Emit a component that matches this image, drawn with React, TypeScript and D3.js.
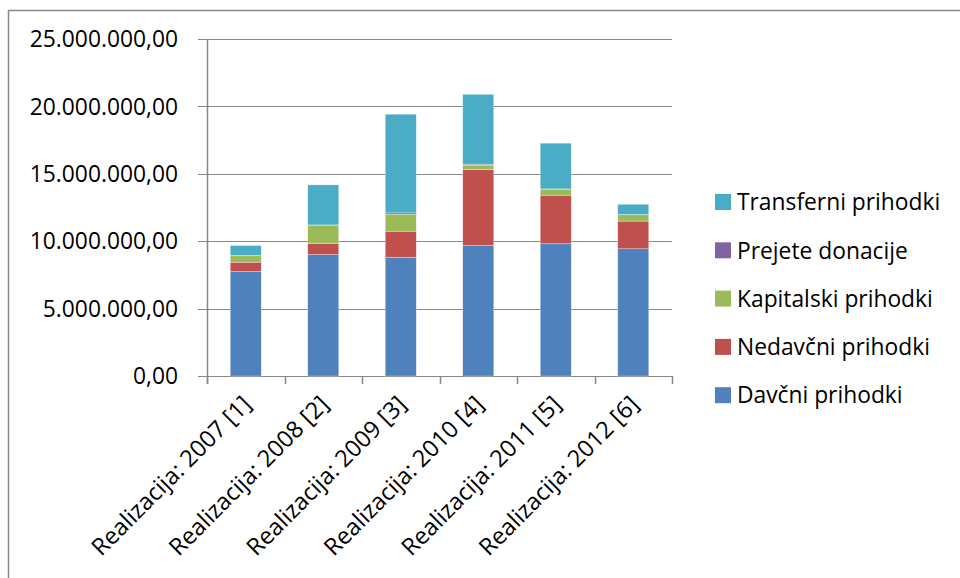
import { useEffect, useRef } from "react";
import * as d3 from "d3";

const CATEGORIES = [
    "Realizacija: 2007 [1]",
    "Realizacija: 2008 [2]",
    "Realizacija: 2009 [3]",
    "Realizacija: 2010 [4]",
    "Realizacija: 2011 [5]",
    "Realizacija: 2012 [6]",
];

// stacking order bottom -> top
const SERIES = ["Davčni prihodki", "Nedavčni prihodki", "Kapitalski prihodki", "Prejete donacije", "Transferni prihodki"];
const COLORS = ["#4F81BD", "#C0504D", "#9BBB59", "#8064A2", "#4BACC6"];

const DAVCNI = [7750000, 9010000, 8810000, 9680000, 9810000, 9440000];
const NEDAVCNI = [690000, 820000, 1930000, 5640000, 3600000, 2050000];
const KAPITALSKI = [480000, 1360000, 1260000, 320000, 450000, 470000];
const DONACIJE = [20000, 20000, 100000, 70000, 20000, 20000];
const TRANSFERNI = [740000, 2970000, 7320000, 5190000, 3390000, 760000];

const Y_TICKS = [0, 5000000, 10000000, 15000000, 20000000, 25000000];

const W = 960;
const H = 578;
const PLOT = { left: 207, right: 672, top: 39, bottom: 376 };
const FONT = "'Open Sans', sans-serif";

// Slovenian number format: 25.000.000,00
const fmt = (v: number) => {
    const s = d3.format(",.2f")(v);
    return s.replace(/,/g, "#").replace(".", ",").replace(/#/g, ".");
};

export default function App() {
    const ref = useRef<SVGSVGElement>(null);

    useEffect(() => {
        const values = [DAVCNI, NEDAVCNI, KAPITALSKI, DONACIJE, TRANSFERNI];
        const rows = CATEGORIES.map((c, i) => {
            const r: Record<string, any> = { cat: c };
            SERIES.forEach((s, k) => (r[s] = values[k][i]));
            return r;
        });
        const stacked = d3.stack<Record<string, any>>().keys(SERIES)(rows);

        const x = d3.scaleBand().domain(CATEGORIES).range([PLOT.left, PLOT.right]).paddingInner(0.6).paddingOuter(0.3);
        const y = d3.scaleLinear().domain([0, 25000000]).range([PLOT.bottom, PLOT.top]);

        const svg = d3.select(ref.current);
        svg.selectAll("*").remove();

        // outer chart frame (runs off the right/bottom of the view)
        svg.append("rect").attr("x", 8.5).attr("y", 10.5).attr("width", 1000).attr("height", 700)
            .attr("fill", "white").attr("stroke", "#888").attr("stroke-width", 1.5);

        // gridlines
        svg.append("g").selectAll("line").data(Y_TICKS).join("line")
            .attr("x1", PLOT.left - 9).attr("x2", PLOT.right)
            .attr("y1", (d) => Math.round(y(d)) + 0.5).attr("y2", (d) => Math.round(y(d)) + 0.5)
            .attr("stroke", "#888").attr("stroke-width", 1.2);

        svg.append("g").selectAll("text").data(Y_TICKS).join("text")
            .attr("x", 178).attr("y", (d) => y(d)).attr("dy", "0.36em")
            .attr("text-anchor", "end").attr("font-family", FONT).attr("font-size", 22.8).attr("fill", "#000")
            .text(fmt);

        // bars
        svg.append("g").selectAll("g").data(stacked).join("g")
            .attr("fill", (_, i) => COLORS[i])
            .selectAll("rect").data((d) => d).join("rect")
            .attr("x", (d) => x(d.data.cat as string)!)
            .attr("width", x.bandwidth())
            .attr("y", (d) => y(d[1]))
            .attr("height", (d) => y(d[0]) - y(d[1]))
            .attr("stroke", "rgba(255,255,255,0.5)").attr("stroke-width", 0.6);

        // axes lines
        svg.append("line").attr("x1", PLOT.left + 0.5).attr("x2", PLOT.left + 0.5)
            .attr("y1", PLOT.top).attr("y2", PLOT.bottom + 8).attr("stroke", "#888").attr("stroke-width", 1.5);
        const xTicks = d3.range(CATEGORIES.length + 1).map((i) => PLOT.left + i * x.step());
        svg.append("g").selectAll("line").data(xTicks).join("line")
            .attr("x1", (d) => Math.round(d) + 0.5).attr("x2", (d) => Math.round(d) + 0.5)
            .attr("y1", PLOT.bottom).attr("y2", PLOT.bottom + 8).attr("stroke", "#888").attr("stroke-width", 1.5);

        // rotated category labels
        svg.append("g").selectAll("text").data(CATEGORIES).join("text")
            .attr("transform", (d) => `translate(${x(d)! + x.bandwidth() / 2 + 1},${PLOT.bottom + 24}) rotate(-45)`)
            .attr("text-anchor", "end").attr("dy", "0.35em")
            .attr("font-family", FONT).attr("font-size", 23.5).attr("fill", "#000")
            .text((d) => d);

        // legend, top entry is the top of the stack
        const legend = svg.append("g").selectAll("g").data(SERIES.slice().reverse()).join("g")
            .attr("transform", (_, i) => `translate(715,${202 + i * 48.3})`);
        legend.append("rect").attr("x", 0).attr("y", -8).attr("width", 16).attr("height", 16)
            .attr("fill", (d) => COLORS[SERIES.indexOf(d)]);
        legend.append("text").attr("x", 22).attr("dy", "0.36em")
            .attr("font-family", FONT).attr("font-size", 22.8).attr("fill", "#000").text((d) => d);
    }, []);

    return (
        <svg ref={ref} width={W} height={H} style={{ position: "absolute", left: 0, top: 0, background: "white" }} />
    );
}
